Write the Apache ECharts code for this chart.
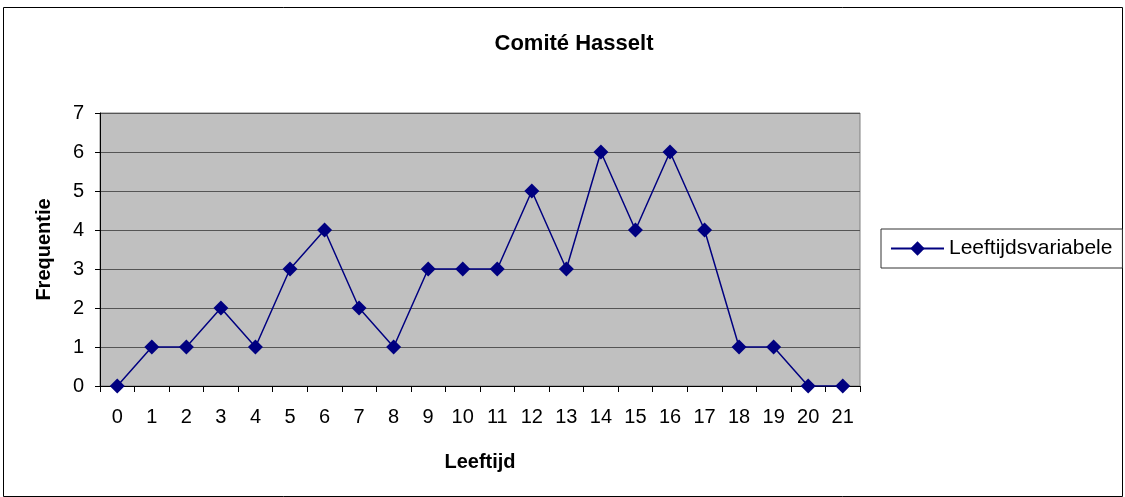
<!DOCTYPE html>
<html lang="nl">
  <head>
    <meta charset="UTF-8" />
    <title>Comité Hasselt</title>
    <script src="https://cdn.jsdelivr.net/npm/echarts@6/dist/echarts.min.js"></script>
    <style>
      body { margin: 0; background: #fff; }
    </style>
  </head>
  <body>
    <div id="chart" style="width: 1125px; height: 497px"></div>

    <script>
      // leeftijden en frequenties
      var leeftijden = ["0", "1", "2", "3", "4", "5", "6", "7", "8", "9", "10",
        "11", "12", "13", "14", "15", "16", "17", "18", "19", "20", "21"];
      var frequenties = [0, 1, 1, 2, 1, 3, 4, 2, 1, 3, 3, 3, 5, 3, 6, 4, 6, 4, 1, 1, 0, 0];
      var serieNaam = "Leeftijdsvariabele";

      var myChart = echarts.init(document.getElementById("chart"));
      var font = "Liberation Sans, Arial, sans-serif";

      var option = {
        animation: false,
        backgroundColor: "#fff",
        title: {
          text: "Comité Hasselt",
          left: 569,
          top: 28,
          textAlign: "center",
          textStyle: { fontFamily: font, fontSize: 22, fontWeight: "bold", color: "#000" }
        },
        graphic: [
          {
            type: "rect",
            shape: { x: 3.5, y: 7.5, width: 1119, height: 489 },
            style: { fill: "none", stroke: "#000", lineWidth: 1 }
          }
        ],
        legend: {
          data: [serieNaam],
          left: 881,
          top: 229,
          padding: [9, 10, 9, 9],
          itemWidth: 53,
          itemHeight: 18,
          itemGap: 4,
          borderColor: "#333",
          borderWidth: 1,
          textStyle: { fontFamily: font, fontSize: 21, color: "#000" }
        },
        grid: {
          left: 100,
          top: 113,
          width: 760,
          height: 273,
          show: true,
          backgroundColor: "#c0c0c0",
          borderColor: "#808080",
          borderWidth: 1
        },
        xAxis: {
          type: "category",
          data: leeftijden,
          boundaryGap: true,
          name: "Leeftijd",
          nameLocation: "middle",
          nameGap: 66,
          nameTextStyle: { fontFamily: font, fontSize: 20, fontWeight: "bold", color: "#000" },
          axisLine: { lineStyle: { color: "#000", width: 1 } },
          axisTick: { show: true, length: 6, lineStyle: { color: "#000" } },
          axisLabel: { margin: 21, fontFamily: font, fontSize: 20, color: "#000" },
          splitLine: { show: false }
        },
        yAxis: {
          type: "value",
          min: 0,
          max: 7,
          interval: 1,
          name: "Frequentie",
          nameLocation: "middle",
          nameGap: 46,
          nameTextStyle: { fontFamily: font, fontSize: 20, fontWeight: "bold", color: "#000" },
          axisLine: { show: true, lineStyle: { color: "#000", width: 1 } },
          axisTick: { show: true, length: 5, lineStyle: { color: "#000" } },
          axisLabel: { margin: 16, fontFamily: font, fontSize: 20, color: "#000" },
          splitLine: { show: true, lineStyle: { color: "#555", width: 1 } }
        },
        series: [
          {
            name: serieNaam,
            type: "line",
            data: frequenties,
            symbol: "diamond",
            symbolSize: 15,
            lineStyle: { color: "#000080", width: 1.5 },
            itemStyle: { color: "#000080" }
          }
        ]
      };

      myChart.setOption(option);
    </script>
  </body>
</html>
